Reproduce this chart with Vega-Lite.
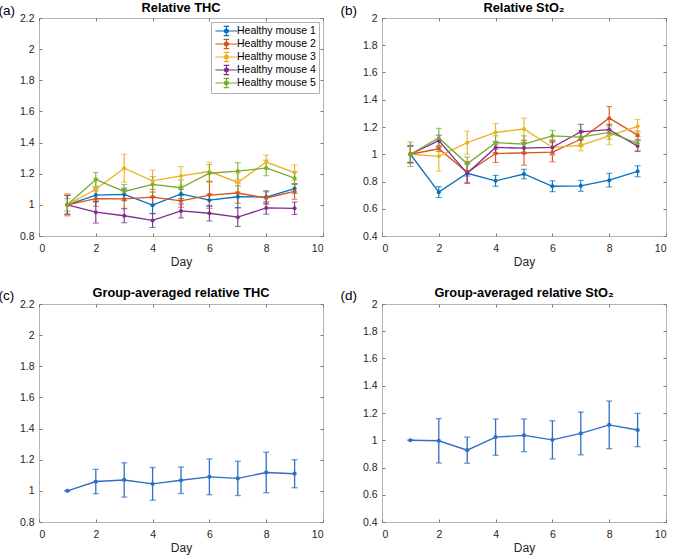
{
  "$schema": "https://vega.github.io/schema/vega-lite/v6.json",
  "padding": {"left": -3, "top": 1, "right": 5, "bottom": 5},
  "background": "white",
  "config": {
    "font": "Liberation Sans",
    "view": {"stroke": "#b5b5b5", "strokeWidth": 1},
    "axis": {
      "grid": false,
      "domain": false,
      "tickColor": "#7a7a7a",
      "tickSize": -3,
      "tickWidth": 1,
      "labelFontSize": 10.5,
      "labelColor": "#262626",
      "titleFontSize": 12,
      "titleFontWeight": "normal",
      "titleColor": "#262626",
      "labelFont": "Liberation Sans",
      "titleFont": "Liberation Sans"
    },
    "axisX": {"labelPadding": 10, "titlePadding": 3},
    "axisY": {"labelPadding": 8},
    "title": {"fontSize": 12.8, "fontWeight": "bold", "color": "black", "offset": 3, "dy": 15, "font": "Liberation Sans"},
    "legend": {"labelFont": "Liberation Sans"}
  },
  "datasets": {
    "thc": [
      {"mouse": "Healthy mouse 1", "day": 1, "v": 1.0, "err": 0.06},
      {"mouse": "Healthy mouse 1", "day": 2, "v": 1.063, "err": 0.045},
      {"mouse": "Healthy mouse 1", "day": 3, "v": 1.067, "err": 0.04},
      {"mouse": "Healthy mouse 1", "day": 4, "v": 0.998, "err": 0.055},
      {"mouse": "Healthy mouse 1", "day": 5, "v": 1.07, "err": 0.03},
      {"mouse": "Healthy mouse 1", "day": 6, "v": 1.03, "err": 0.04},
      {"mouse": "Healthy mouse 1", "day": 7, "v": 1.052, "err": 0.07},
      {"mouse": "Healthy mouse 1", "day": 8, "v": 1.05, "err": 0.04},
      {"mouse": "Healthy mouse 1", "day": 9, "v": 1.105, "err": 0.03},
      {"mouse": "Healthy mouse 2", "day": 1, "v": 1.0, "err": 0.07},
      {"mouse": "Healthy mouse 2", "day": 2, "v": 1.04, "err": 0.05},
      {"mouse": "Healthy mouse 2", "day": 3, "v": 1.038, "err": 0.06},
      {"mouse": "Healthy mouse 2", "day": 4, "v": 1.05, "err": 0.05},
      {"mouse": "Healthy mouse 2", "day": 5, "v": 1.025, "err": 0.04},
      {"mouse": "Healthy mouse 2", "day": 6, "v": 1.063, "err": 0.085},
      {"mouse": "Healthy mouse 2", "day": 7, "v": 1.076, "err": 0.065},
      {"mouse": "Healthy mouse 2", "day": 8, "v": 1.044, "err": 0.04},
      {"mouse": "Healthy mouse 2", "day": 9, "v": 1.086, "err": 0.05},
      {"mouse": "Healthy mouse 3", "day": 1, "v": 1.0, "err": 0.07},
      {"mouse": "Healthy mouse 3", "day": 2, "v": 1.1, "err": 0.07},
      {"mouse": "Healthy mouse 3", "day": 3, "v": 1.235, "err": 0.09},
      {"mouse": "Healthy mouse 3", "day": 4, "v": 1.154, "err": 0.07},
      {"mouse": "Healthy mouse 3", "day": 5, "v": 1.186, "err": 0.06},
      {"mouse": "Healthy mouse 3", "day": 6, "v": 1.214, "err": 0.06},
      {"mouse": "Healthy mouse 3", "day": 7, "v": 1.144, "err": 0.06},
      {"mouse": "Healthy mouse 3", "day": 8, "v": 1.275, "err": 0.045},
      {"mouse": "Healthy mouse 3", "day": 9, "v": 1.207, "err": 0.05},
      {"mouse": "Healthy mouse 4", "day": 1, "v": 1.0, "err": 0.06},
      {"mouse": "Healthy mouse 4", "day": 2, "v": 0.953, "err": 0.07},
      {"mouse": "Healthy mouse 4", "day": 3, "v": 0.93, "err": 0.045},
      {"mouse": "Healthy mouse 4", "day": 4, "v": 0.9, "err": 0.045},
      {"mouse": "Healthy mouse 4", "day": 5, "v": 0.961, "err": 0.045},
      {"mouse": "Healthy mouse 4", "day": 6, "v": 0.946, "err": 0.05},
      {"mouse": "Healthy mouse 4", "day": 7, "v": 0.921, "err": 0.06},
      {"mouse": "Healthy mouse 4", "day": 8, "v": 0.98, "err": 0.04},
      {"mouse": "Healthy mouse 4", "day": 9, "v": 0.978, "err": 0.04},
      {"mouse": "Healthy mouse 5", "day": 1, "v": 1.0, "err": 0.04},
      {"mouse": "Healthy mouse 5", "day": 2, "v": 1.163, "err": 0.045},
      {"mouse": "Healthy mouse 5", "day": 3, "v": 1.086, "err": 0.045},
      {"mouse": "Healthy mouse 5", "day": 4, "v": 1.131, "err": 0.05},
      {"mouse": "Healthy mouse 5", "day": 5, "v": 1.11, "err": 0.05},
      {"mouse": "Healthy mouse 5", "day": 6, "v": 1.203, "err": 0.055},
      {"mouse": "Healthy mouse 5", "day": 7, "v": 1.216, "err": 0.055},
      {"mouse": "Healthy mouse 5", "day": 8, "v": 1.237, "err": 0.05},
      {"mouse": "Healthy mouse 5", "day": 9, "v": 1.171, "err": 0.04}
    ],
    "sto2": [
      {"mouse": "Healthy mouse 1", "day": 1, "v": 1.0, "err": 0.065},
      {"mouse": "Healthy mouse 1", "day": 2, "v": 0.722, "err": 0.04},
      {"mouse": "Healthy mouse 1", "day": 3, "v": 0.86, "err": 0.02},
      {"mouse": "Healthy mouse 1", "day": 4, "v": 0.805, "err": 0.04},
      {"mouse": "Healthy mouse 1", "day": 5, "v": 0.855, "err": 0.035},
      {"mouse": "Healthy mouse 1", "day": 6, "v": 0.765, "err": 0.04},
      {"mouse": "Healthy mouse 1", "day": 7, "v": 0.768, "err": 0.04},
      {"mouse": "Healthy mouse 1", "day": 8, "v": 0.81, "err": 0.05},
      {"mouse": "Healthy mouse 1", "day": 9, "v": 0.875, "err": 0.04},
      {"mouse": "Healthy mouse 2", "day": 1, "v": 1.0, "err": 0.06},
      {"mouse": "Healthy mouse 2", "day": 2, "v": 1.04, "err": 0.02},
      {"mouse": "Healthy mouse 2", "day": 3, "v": 0.867, "err": 0.08},
      {"mouse": "Healthy mouse 2", "day": 4, "v": 1.005, "err": 0.065},
      {"mouse": "Healthy mouse 2", "day": 5, "v": 1.01, "err": 0.09},
      {"mouse": "Healthy mouse 2", "day": 6, "v": 1.015, "err": 0.07},
      {"mouse": "Healthy mouse 2", "day": 7, "v": 1.11, "err": 0.05},
      {"mouse": "Healthy mouse 2", "day": 8, "v": 1.265, "err": 0.085},
      {"mouse": "Healthy mouse 2", "day": 9, "v": 1.14, "err": 0.03},
      {"mouse": "Healthy mouse 3", "day": 1, "v": 1.0, "err": 0.06},
      {"mouse": "Healthy mouse 3", "day": 2, "v": 0.985, "err": 0.11},
      {"mouse": "Healthy mouse 3", "day": 3, "v": 1.085, "err": 0.085},
      {"mouse": "Healthy mouse 3", "day": 4, "v": 1.16, "err": 0.065},
      {"mouse": "Healthy mouse 3", "day": 5, "v": 1.185, "err": 0.08},
      {"mouse": "Healthy mouse 3", "day": 6, "v": 1.05, "err": 0.06},
      {"mouse": "Healthy mouse 3", "day": 7, "v": 1.065, "err": 0.04},
      {"mouse": "Healthy mouse 3", "day": 8, "v": 1.135, "err": 0.065},
      {"mouse": "Healthy mouse 3", "day": 9, "v": 1.205, "err": 0.05},
      {"mouse": "Healthy mouse 4", "day": 1, "v": 1.0, "err": 0.06},
      {"mouse": "Healthy mouse 4", "day": 2, "v": 1.1, "err": 0.04},
      {"mouse": "Healthy mouse 4", "day": 3, "v": 0.86, "err": 0.07},
      {"mouse": "Healthy mouse 4", "day": 4, "v": 1.05, "err": 0.04},
      {"mouse": "Healthy mouse 4", "day": 5, "v": 1.045, "err": 0.04},
      {"mouse": "Healthy mouse 4", "day": 6, "v": 1.05, "err": 0.05},
      {"mouse": "Healthy mouse 4", "day": 7, "v": 1.165, "err": 0.055},
      {"mouse": "Healthy mouse 4", "day": 8, "v": 1.18, "err": 0.04},
      {"mouse": "Healthy mouse 4", "day": 9, "v": 1.06, "err": 0.04},
      {"mouse": "Healthy mouse 5", "day": 1, "v": 1.0, "err": 0.09},
      {"mouse": "Healthy mouse 5", "day": 2, "v": 1.12, "err": 0.07},
      {"mouse": "Healthy mouse 5", "day": 3, "v": 0.93, "err": 0.05},
      {"mouse": "Healthy mouse 5", "day": 4, "v": 1.085, "err": 0.05},
      {"mouse": "Healthy mouse 5", "day": 5, "v": 1.075, "err": 0.06},
      {"mouse": "Healthy mouse 5", "day": 6, "v": 1.135, "err": 0.04},
      {"mouse": "Healthy mouse 5", "day": 7, "v": 1.125, "err": 0.05},
      {"mouse": "Healthy mouse 5", "day": 8, "v": 1.16, "err": 0.05},
      {"mouse": "Healthy mouse 5", "day": 9, "v": 1.08, "err": 0.05}
    ],
    "thcavg": [
      {"day": 1, "v": 1.0, "err": 0.0},
      {"day": 2, "v": 1.06, "err": 0.078},
      {"day": 3, "v": 1.07, "err": 0.11},
      {"day": 4, "v": 1.045, "err": 0.105},
      {"day": 5, "v": 1.068, "err": 0.085},
      {"day": 6, "v": 1.09, "err": 0.115},
      {"day": 7, "v": 1.08, "err": 0.11},
      {"day": 8, "v": 1.118, "err": 0.13},
      {"day": 9, "v": 1.11, "err": 0.09}
    ],
    "sto2avg": [
      {"day": 1, "v": 1.0, "err": 0.0},
      {"day": 2, "v": 0.996, "err": 0.163},
      {"day": 3, "v": 0.927, "err": 0.096},
      {"day": 4, "v": 1.023, "err": 0.133},
      {"day": 5, "v": 1.036, "err": 0.12},
      {"day": 6, "v": 1.003, "err": 0.14},
      {"day": 7, "v": 1.05, "err": 0.157},
      {"day": 8, "v": 1.113, "err": 0.175},
      {"day": 9, "v": 1.075, "err": 0.122}
    ]
  },
  "resolve": {"scale": {"color": "independent"}},
  "spacing": 18,
  "vconcat": [
    {
      "hconcat": [
        {
          "name": "pa",
          "width": 284,
          "height": 218,
          "title": {"text": "Relative THC"},
          "data": {"name": "thc"},
          "layer": [
            {
              "mark": {"type": "errorbar", "ticks": {"size": 6}, "thickness": 1.1},
              "encoding": {
                "x": {"field": "day", "type": "quantitative", "scale": {"domain": [0, 10]}, "axis": {"values": [0, 2, 4, 6, 8, 10], "title": "Day"}},
                "y": {"field": "v", "type": "quantitative", "scale": {"domain": [0.8, 2.2]}, "axis": {"values": [0.8, 1, 1.2, 1.4, 1.6, 1.8, 2, 2.2], "format": "~g", "title": "(a)", "titleAngle": 0, "titleAlign": "left", "titleBaseline": "alphabetic", "titleX": -41, "titleY": -4, "titleFontSize": 13.5, "titleColor": "black"}},
                "yError": {"field": "err"},
                "color": {"field": "mouse", "type": "nominal", "scale": {"domain": ["Healthy mouse 1", "Healthy mouse 2", "Healthy mouse 3", "Healthy mouse 4", "Healthy mouse 5"], "range": ["#0072BD", "#D95319", "#EDB120", "#7E2F8E", "#77AC30"]},
                  "legend": {
                    "title": null, "orient": "top-right", "offset": 4, "padding": 3,
                    "strokeColor": "#b0b0b0", "fillColor": "white",
                    "labelFontSize": 10.5, "labelColor": "black", "labelOffset": 11, "rowPadding": -2.25,
                    "symbolOffset": 0,
                    "symbolType": "M-0.92,0H3.48M1.28,-0.92V0.92M0.73,-0.92H1.83M0.73,0.92H1.83M1.68,0A0.4,0.4 0 1,1 0.88,0A0.4,0.4 0 1,1 1.68,0",
                    "symbolSize": 100, "symbolStrokeWidth": 1.2,
                    "encode": {"symbols": {"update": {"fill": {"scale": "pa_color", "field": "value"}, "fillOpacity": {"value": 1}}}}
                  }
                }
              }
            },
            {
              "mark": {"type": "line", "strokeWidth": 1.3, "point": {"filled": true, "size": 16}},
              "encoding": {
                "x": {"field": "day", "type": "quantitative", "scale": {"domain": [0, 10]}, "axis": null},
                "y": {"field": "v", "type": "quantitative", "scale": {"domain": [0.8, 2.2]}, "axis": null},
                "color": {"field": "mouse", "type": "nominal", "scale": {"domain": ["Healthy mouse 1", "Healthy mouse 2", "Healthy mouse 3", "Healthy mouse 4", "Healthy mouse 5"], "range": ["#0072BD", "#D95319", "#EDB120", "#7E2F8E", "#77AC30"]},
                  "legend": {
                    "title": null, "orient": "top-right", "offset": 4, "padding": 3,
                    "strokeColor": "#b0b0b0", "fillColor": "white",
                    "labelFontSize": 10.5, "labelColor": "black", "labelOffset": 11, "rowPadding": -2.25,
                    "symbolOffset": 0,
                    "symbolType": "M-0.92,0H3.48M1.28,-0.92V0.92M0.73,-0.92H1.83M0.73,0.92H1.83M1.68,0A0.4,0.4 0 1,1 0.88,0A0.4,0.4 0 1,1 1.68,0",
                    "symbolSize": 100, "symbolStrokeWidth": 1.2,
                    "encode": {"symbols": {"update": {"fill": {"scale": "pa_color", "field": "value"}, "fillOpacity": {"value": 1}}}}
                  }
                }
              }
            },
            {
              "mark": {"type": "point", "opacity": 0},
              "encoding": {
                "x": {"datum": 5, "type": "quantitative", "scale": {"domain": [0, 10]}, "axis": {"orient": "top", "values": [0, 2, 4, 6, 8, 10], "labels": false, "title": null}},
                "y": {"datum": 1, "type": "quantitative", "scale": {"domain": [0.8, 2.2]}, "axis": {"orient": "right", "values": [0.8, 1, 1.2, 1.4, 1.6, 1.8, 2, 2.2], "labels": false, "title": null}}
              }
            }
          ],
          "resolve": {"axis": {"x": "independent", "y": "independent"}}
        },
        {
          "name": "pb",
          "width": 284,
          "height": 218,
          "title": {"text": "Relative StO₂"},
          "data": {"name": "sto2"},
          "layer": [
            {
              "mark": {"type": "errorbar", "ticks": {"size": 6}, "thickness": 1.1},
              "encoding": {
                "x": {"field": "day", "type": "quantitative", "scale": {"domain": [0, 10]}, "axis": {"values": [0, 2, 4, 6, 8, 10], "title": "Day"}},
                "y": {"field": "v", "type": "quantitative", "scale": {"domain": [0.4, 2]}, "axis": {"values": [0.4, 0.6, 0.8, 1, 1.2, 1.4, 1.6, 1.8, 2], "format": "~g", "title": "(b)", "titleAngle": 0, "titleAlign": "left", "titleBaseline": "alphabetic", "titleX": -42, "titleY": -4, "titleFontSize": 13.5, "titleColor": "black"}},
                "yError": {"field": "err"},
                "color": {"field": "mouse", "type": "nominal", "scale": {"domain": ["Healthy mouse 1", "Healthy mouse 2", "Healthy mouse 3", "Healthy mouse 4", "Healthy mouse 5"], "range": ["#0072BD", "#D95319", "#EDB120", "#7E2F8E", "#77AC30"]}, "legend": null}
              }
            },
            {
              "mark": {"type": "line", "strokeWidth": 1.3, "point": {"filled": true, "size": 16}},
              "encoding": {
                "x": {"field": "day", "type": "quantitative", "scale": {"domain": [0, 10]}, "axis": null},
                "y": {"field": "v", "type": "quantitative", "scale": {"domain": [0.4, 2]}, "axis": null},
                "color": {"field": "mouse", "type": "nominal", "scale": {"domain": ["Healthy mouse 1", "Healthy mouse 2", "Healthy mouse 3", "Healthy mouse 4", "Healthy mouse 5"], "range": ["#0072BD", "#D95319", "#EDB120", "#7E2F8E", "#77AC30"]}, "legend": null}
              }
            },
            {
              "mark": {"type": "point", "opacity": 0},
              "encoding": {
                "x": {"datum": 5, "type": "quantitative", "scale": {"domain": [0, 10]}, "axis": {"orient": "top", "values": [0, 2, 4, 6, 8, 10], "labels": false, "title": null}},
                "y": {"datum": 1, "type": "quantitative", "scale": {"domain": [0.4, 2]}, "axis": {"orient": "right", "values": [0.4, 0.6, 0.8, 1, 1.2, 1.4, 1.6, 1.8, 2], "labels": false, "title": null}}
              }
            }
          ],
          "resolve": {"axis": {"x": "independent", "y": "independent"}}
        }
      ],
      "spacing": 15,
      "resolve": {"scale": {"color": "independent"}}
    },
    {
      "hconcat": [
        {
          "width": 284,
          "height": 218,
          "title": {"text": "Group-averaged relative THC"},
          "data": {"name": "thcavg"},
          "layer": [
            {
              "mark": {"type": "errorbar", "ticks": {"size": 6}, "thickness": 1.3, "color": "#2f6fc4"},
              "encoding": {
                "x": {"field": "day", "type": "quantitative", "scale": {"domain": [0, 10]}, "axis": {"values": [0, 2, 4, 6, 8, 10], "title": "Day"}},
                "y": {"field": "v", "type": "quantitative", "scale": {"domain": [0.8, 2.2]}, "axis": {"values": [0.8, 1, 1.2, 1.4, 1.6, 1.8, 2, 2.2], "format": "~g", "title": "(c)", "titleAngle": 0, "titleAlign": "left", "titleBaseline": "alphabetic", "titleX": -41, "titleY": -5, "titleFontSize": 13.5, "titleColor": "black"}},
                "yError": {"field": "err"}
              }
            },
            {
              "mark": {"type": "line", "strokeWidth": 1.4, "color": "#2f6fc4", "point": {"filled": true, "size": 18, "color": "#2f6fc4"}},
              "encoding": {
                "x": {"field": "day", "type": "quantitative", "scale": {"domain": [0, 10]}, "axis": null},
                "y": {"field": "v", "type": "quantitative", "scale": {"domain": [0.8, 2.2]}, "axis": null}
              }
            },
            {
              "mark": {"type": "point", "opacity": 0},
              "encoding": {
                "x": {"datum": 5, "type": "quantitative", "scale": {"domain": [0, 10]}, "axis": {"orient": "top", "values": [0, 2, 4, 6, 8, 10], "labels": false, "title": null}},
                "y": {"datum": 1, "type": "quantitative", "scale": {"domain": [0.8, 2.2]}, "axis": {"orient": "right", "values": [0.8, 1, 1.2, 1.4, 1.6, 1.8, 2, 2.2], "labels": false, "title": null}}
              }
            }
          ],
          "resolve": {"axis": {"x": "independent", "y": "independent"}}
        },
        {
          "width": 284,
          "height": 218,
          "title": {"text": "Group-averaged relative StO₂"},
          "data": {"name": "sto2avg"},
          "layer": [
            {
              "mark": {"type": "errorbar", "ticks": {"size": 6}, "thickness": 1.3, "color": "#2f6fc4"},
              "encoding": {
                "x": {"field": "day", "type": "quantitative", "scale": {"domain": [0, 10]}, "axis": {"values": [0, 2, 4, 6, 8, 10], "title": "Day"}},
                "y": {"field": "v", "type": "quantitative", "scale": {"domain": [0.4, 2]}, "axis": {"values": [0.4, 0.6, 0.8, 1, 1.2, 1.4, 1.6, 1.8, 2], "format": "~g", "title": "(d)", "titleAngle": 0, "titleAlign": "left", "titleBaseline": "alphabetic", "titleX": -42, "titleY": -5, "titleFontSize": 13.5, "titleColor": "black"}},
                "yError": {"field": "err"}
              }
            },
            {
              "mark": {"type": "line", "strokeWidth": 1.4, "color": "#2f6fc4", "point": {"filled": true, "size": 18, "color": "#2f6fc4"}},
              "encoding": {
                "x": {"field": "day", "type": "quantitative", "scale": {"domain": [0, 10]}, "axis": null},
                "y": {"field": "v", "type": "quantitative", "scale": {"domain": [0.4, 2]}, "axis": null}
              }
            },
            {
              "mark": {"type": "point", "opacity": 0},
              "encoding": {
                "x": {"datum": 5, "type": "quantitative", "scale": {"domain": [0, 10]}, "axis": {"orient": "top", "values": [0, 2, 4, 6, 8, 10], "labels": false, "title": null}},
                "y": {"datum": 1, "type": "quantitative", "scale": {"domain": [0.4, 2]}, "axis": {"orient": "right", "values": [0.4, 0.6, 0.8, 1, 1.2, 1.4, 1.6, 1.8, 2], "labels": false, "title": null}}
              }
            }
          ],
          "resolve": {"axis": {"x": "independent", "y": "independent"}}
        }
      ],
      "spacing": 15
    }
  ]
}
